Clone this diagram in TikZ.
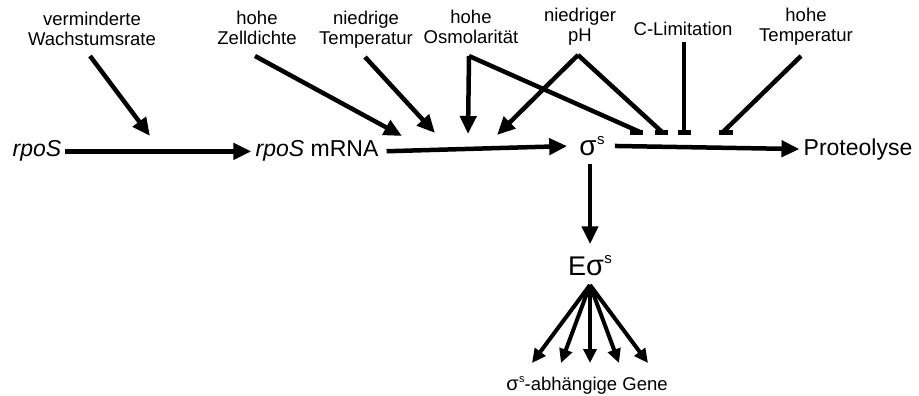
\documentclass[tikz,border=0pt]{standalone}
\usepackage{fontspec}
\setmainfont{Liberation Sans}
\usetikzlibrary{arrows.meta,calc}
\newcommand\sigs[3]{{\fontsize{#1}{#1}\selectfont σ}\kern0.5pt\raisebox{#2}{\fontsize{#3}{#3}\selectfont s}}
\begin{document}
\begin{tikzpicture}[x=1pt,y=-1pt,
  lbl/.style={font=\fontsize{18.5}{20}\selectfont, align=center, inner sep=0pt, anchor=north,
    execute at begin node=\strut, execute at end node=\strut},
  mainlbl/.style={font=\fontsize{23}{26}\selectfont, inner xsep=4pt, inner ysep=0pt, anchor=base},
  act/.style={line width=4.5pt, -{Triangle[length=18pt,width=16pt]}},
  inh/.style={line width=4.5pt},
  barend/.style={line width=5pt},
  fan/.style={line width=4pt, -{Triangle[length=14pt,width=13pt]}},
]
\useasboundingbox (0,0) rectangle (919,396);

% top labels
\node[lbl] (wachs) at (92,12) {verminderte\\Wachstumsrate};
\node[lbl] (zell)  at (257,11) {hohe\\Zelldichte};
\node[lbl] (ntemp) at (366,11) {niedrige\\Temperatur};
\node[lbl] (osmo)  at (471,10) {hohe\\Osmolarität};
\node[lbl] (ph)    at (580,8) {niedriger\\pH};
\node[lbl] (clim)  at (683,21) {C-Limitation};
\node[lbl] (htemp) at (806,8) {hohe\\Temperatur};

% main row
\node[mainlbl] (rpos) at (37,157) {\textit{rpoS}};
\node[mainlbl] (mrna) at (317,157) {\textit{rpoS} mRNA};
\node[mainlbl] (sig)  at (592,155) {\sigs{28}{10.5pt}{15}};
\node[mainlbl] (prot) at (858,155) {Proteolyse};
\node[mainlbl] (esig) at (590,275) {{\fontsize{27}{28}\selectfont E}\sigs{29}{11.5pt}{15}};
\node[font=\fontsize{18.5}{20}\selectfont, inner sep=0pt, anchor=base] (genes) at (587,390) {\sigs{20}{8pt}{11}-abhängige Gene};

% coordinates
\coordinate (sw) at (90,56);   \coordinate (tw) at (150,136);
\coordinate (sz) at (255,56);  \coordinate (tz) at (402,136);
\coordinate (st) at (365,57);  \coordinate (tt) at (435,133);
\coordinate (jo) at (469,56);  \coordinate (to) at (468,134); \coordinate (bo) at (640,132);
\coordinate (jp) at (578,55);  \coordinate (tp) at (497,135); \coordinate (bp) at (662,132);
\coordinate (sc) at (684,42);  \coordinate (bc) at (684,132);
\coordinate (sh) at (801,56);  \coordinate (bh) at (723,132);
\coordinate (fo) at (590,285);
\coordinate (g1) at (532,363); \coordinate (g2) at (561,363); \coordinate (g3) at (590,363);
\coordinate (g4) at (619,363); \coordinate (g5) at (648,363);

% main arrows
\draw[act] (rpos.east) -- (mrna.west);
\draw[act, shorten <=4pt, shorten >=8pt] (mrna.east) -- (sig.west);
\draw[act, shorten <=6pt] (sig.east) -- (prot.west);
\draw[act, shorten <=9pt, shorten >=11pt] (fo |- sig.south) -- (fo |- esig.north);

% activating influences
\draw[act] (sw) -- (tw);
\draw[act] (sz) -- (tz);
\draw[act] (st) -- (tt);
\draw[act] (jo) -- (to);
\draw[act] (jp) -- (tp);

% inhibiting influences
\draw[inh, line join=round] (jo) -- (bo);
\draw[inh, line join=round] (jp) -- (bp);
\draw[inh] (sc) -- (bc);
\draw[inh] (sh) -- (bh);
\draw[barend] ($(bo)+(-10,0)$) -- ($(bo)+(3,0)$);
\draw[barend] ($(bp)+(-7,0)$) -- ($(bp)+(6,0)$);
\draw[barend] ($(bc)+(-6,0)$) -- ($(bc)+(7,0)$);
\draw[barend] ($(bh)+(-4,0)$) -- ($(bh)+(10,0)$);

% fan
\foreach \g in {g1,g2,g3,g4,g5} \draw[fan] (fo) -- (\g);
\end{tikzpicture}
\end{document}
